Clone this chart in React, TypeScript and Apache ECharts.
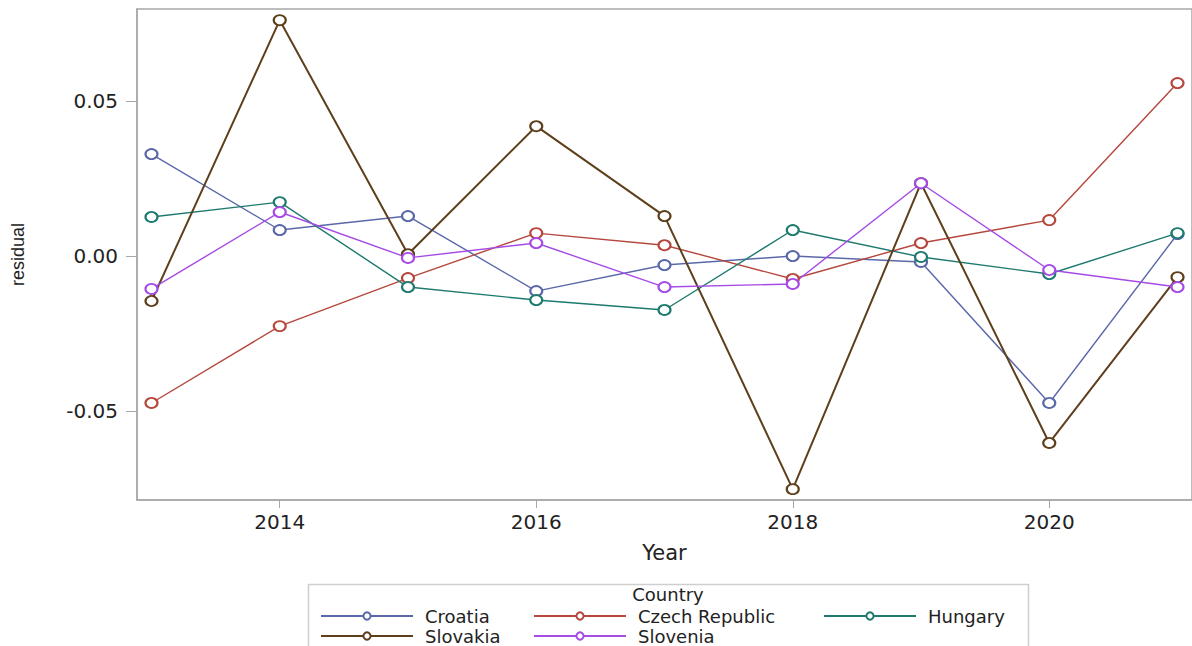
import React, { useEffect, useRef } from "react";
import * as echarts from "echarts";

const years = [2013, 2014, 2015, 2016, 2017, 2018, 2019, 2020, 2021];
const countries = ["Croatia", "Czech Republic", "Hungary", "Slovakia", "Slovenia"];
const croatia = [0.0329, 0.0084, 0.0129, -0.0113, -0.0029, 0.0, -0.0019, -0.0474, 0.0071];
const czech = [-0.0474, -0.0226, -0.0071, 0.0074, 0.0035, -0.0074, 0.0042, 0.0116, 0.0558];
const hungary = [0.0126, 0.0174, -0.01, -0.0142, -0.0174, 0.0084, -0.0003, -0.0058, 0.0074];
const slovakia = [-0.0145, 0.0761, 0.0006, 0.0419, 0.0129, -0.0752, 0.0235, -0.0603, -0.0068];
const slovenia = [-0.0106, 0.0142, -0.0006, 0.0042, -0.01, -0.009, 0.0235, -0.0045, -0.01];
const xTicks = [2014, 2016, 2018, 2020];
const yTicks = [-0.05, 0, 0.05];

const seriesValues = [croatia, czech, hungary, slovakia, slovenia];
const colors = ["#5A68AA", "#B5473D", "#1E7A6E", "#5E3F1C", "#A64BE6"];
const widths = [1.4, 1.4, 1.4, 2, 1.4];
const legendPos = [
  { left: 320, top: 607 },
  { left: 533, top: 607 },
  { left: 823, top: 607 },
  { left: 320, top: 627 },
  { left: 533, top: 627 },
];

export default function App() {
  const ref = useRef<HTMLDivElement>(null);
  useEffect(() => {
    if (!ref.current) return;
    const chart = echarts.init(ref.current, null, { renderer: "svg" });
    const axisColor = "#A8A8A8";
    chart.setOption({
      animation: false,
      backgroundColor: "#ffffff",
      grid: {
        left: 137,
        top: 9,
        width: 1057,
        height: 491,
        show: true,
        borderColor: axisColor,
        borderWidth: 1.5,
      },
      xAxis: {
        type: "value",
        min: 2012.887,
        max: 2021.113,
        name: "Year",
        nameLocation: "middle",
        nameGap: 42,
        nameTextStyle: { fontFamily: "DejaVu Sans", fontSize: 21, color: "#222" },
        axisLine: { show: true, onZero: false, lineStyle: { color: axisColor, width: 1.5 } },
        axisTick: { show: true, length: 8, lineStyle: { color: axisColor }, customValues: xTicks },
        axisLabel: {
          customValues: xTicks,
          margin: 12,
          fontFamily: "DejaVu Sans",
          fontSize: 20,
          color: "#222",
          formatter: (v: number) => String(v),
        },
        splitLine: { show: false },
      },
      yAxis: {
        type: "value",
        min: -0.0787,
        max: 0.0797,
        name: "residual",
        nameLocation: "middle",
        nameGap: 110,
        nameTextStyle: { fontFamily: "Liberation Sans", fontSize: 18, color: "#222" },
        axisLine: { show: true, onZero: false, lineStyle: { color: axisColor, width: 1.5 } },
        axisTick: { show: true, length: 11, lineStyle: { color: axisColor }, customValues: yTicks },
        axisLabel: {
          customValues: yTicks,
          margin: 19,
          fontFamily: "DejaVu Sans",
          fontSize: 20,
          color: "#222",
          formatter: (v: number) => v.toFixed(2),
        },
        splitLine: { show: false },
      },
      legend: countries.map((c, i) => ({
        data: [c],
        left: legendPos[i].left,
        top: legendPos[i].top,
        itemWidth: 92,
        itemHeight: 9,
        padding: 0,
        selectedMode: false,
        textStyle: {
          fontFamily: "DejaVu Sans",
          fontSize: 18,
          color: "#222",
          padding: [0, 0, 0, 7],
        },
      })),
      graphic: [
        {
          type: "rect",
          shape: { x: 308.5, y: 584.5, width: 720, height: 80 },
          style: { fill: "none", stroke: "#CFCFCF", lineWidth: 1.5 },
          z: 0,
        },
        {
          type: "text",
          style: {
            text: "Country",
            x: 668,
            y: 594,
            align: "center",
            verticalAlign: "middle",
            fontFamily: "DejaVu Sans",
            fontSize: 18,
            fill: "#222",
          },
        },
      ],
      series: countries.map((c, i) => ({
        name: c,
        type: "line",
        data: years.map((y, j) => [y, seriesValues[i][j]]),
        symbol: "emptyCircle",
        symbolSize: [12, 10],
        color: colors[i],
        lineStyle: { color: colors[i], width: widths[i] },
        itemStyle: { color: colors[i], borderColor: colors[i], borderWidth: 1.4 },
      })),
    });
    return () => chart.dispose();
  }, []);
  return (
    <div
      ref={ref}
      style={{ position: "absolute", left: 0, top: 0, width: 1192, height: 646 }}
    />
  );
}
